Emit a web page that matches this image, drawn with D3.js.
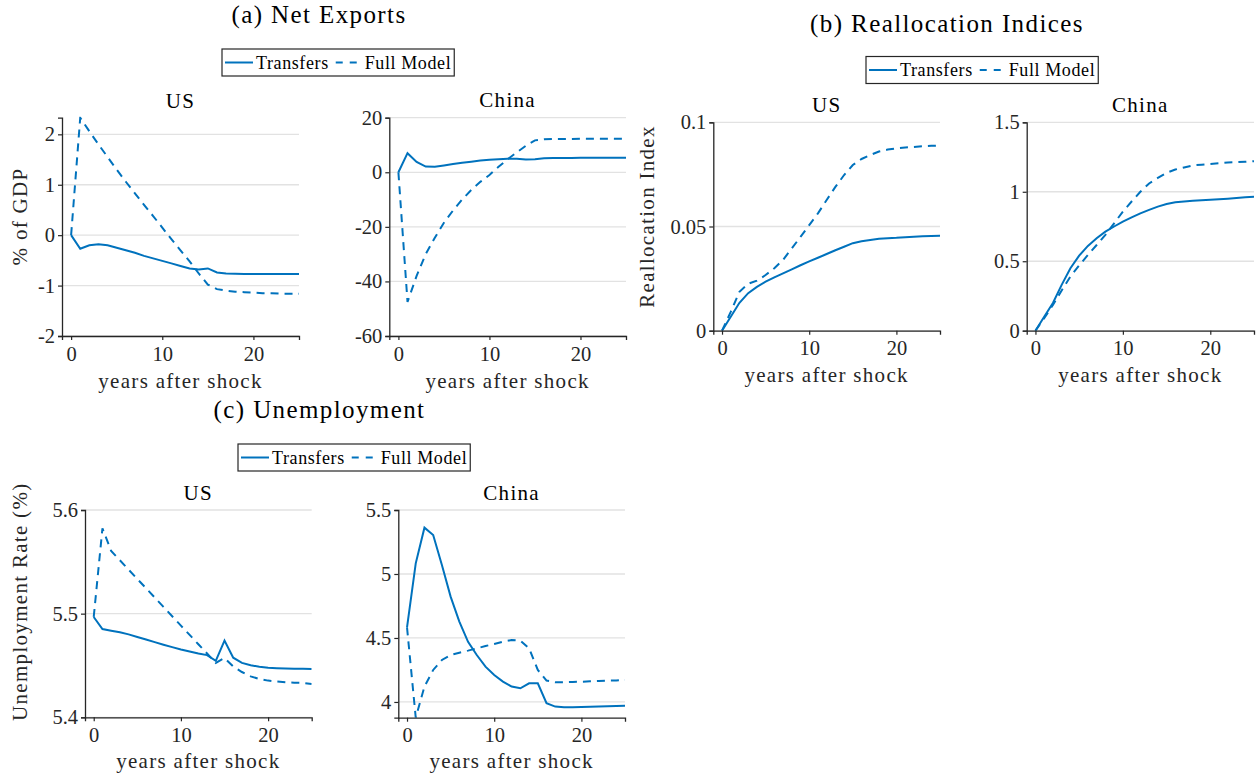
<!DOCTYPE html>
<html><head><meta charset="utf-8">
<script src="https://cdn.jsdelivr.net/npm/d3@7"></script>
<style>
body{margin:0;background:#fff}
svg{display:block}
text{font-family:"Liberation Serif","Times New Roman",serif;}
</style>
</head><body>
<svg id="chart" width="1257" height="776"></svg>
<script>
// ---------------- data ----------------
const years = [0,1,2,3,4,5,6,7,8,9,10,11,12,13,14,15,16,17,18,19,20,21,22,23,24,25];
const seriesNames = ["Transfers", "Full Model"];
const xTicks = [0, 10, 20];

// (a) Net Exports, % of GDP
const nxUSTransfers = [0,-0.27,-0.2,-0.18,-0.2,-0.25,-0.3,-0.35,-0.41,-0.46,-0.51,-0.56,-0.61,-0.66,-0.68,-0.66,-0.74,-0.76,-0.765,-0.77,-0.77,-0.77,-0.77,-0.77,-0.77,-0.77];
const nxUSFull      = [0,2.33,2.06,1.8,1.55,1.3,1.06,0.83,0.6,0.38,0.15,-0.08,-0.3,-0.52,-0.76,-0.98,-1.07,-1.1,-1.12,-1.13,-1.14,-1.15,-1.15,-1.16,-1.16,-1.16];
const nxCNTransfers = [0,7.0,3.8,2.1,2.0,2.5,3.0,3.5,3.9,4.3,4.6,4.8,5.0,5.0,4.7,4.75,5.1,5.2,5.25,5.25,5.3,5.3,5.3,5.3,5.3,5.3];
const nxCNFull      = [0,-47.5,-38,-30,-24,-18.5,-14,-10,-6.5,-3.5,-1,2,4.8,7.3,9.7,11.7,12.1,12.2,12.2,12.2,12.3,12.3,12.3,12.3,12.3,12.3];
const nxUSTicks = [-2,-1,0,1,2];
const nxCNTicks = [-60,-40,-20,0,20];

// (b) Reallocation Indices
const riUSTransfers = [0,0.0067,0.0134,0.018,0.021,0.0235,0.0256,0.0275,0.0294,0.0314,0.0333,0.035,0.0368,0.0386,0.0403,0.042,0.0429,0.0435,0.0441,0.0444,0.0446,0.0449,0.0451,0.0453,0.0455,0.0456];
const riUSFull      = [0,0.009,0.0187,0.0225,0.024,0.0267,0.030,0.034,0.0395,0.045,0.0507,0.0563,0.0627,0.069,0.0747,0.0795,0.0824,0.0843,0.086,0.0869,0.0875,0.0879,0.0882,0.0885,0.0887,0.0889];
const riCNTransfers = [0,0.1,0.2,0.33,0.45,0.54,0.61,0.665,0.713,0.75,0.785,0.816,0.845,0.87,0.893,0.912,0.924,0.93,0.935,0.939,0.942,0.946,0.95,0.955,0.96,0.965];
const riCNFull      = [0,0.09,0.185,0.29,0.39,0.47,0.545,0.617,0.69,0.773,0.857,0.93,1.0,1.06,1.1,1.137,1.16,1.175,1.19,1.195,1.2,1.205,1.21,1.213,1.216,1.22];
const riUSTicks = [0,0.05,0.1];
const riUSTickLabels = ["0","0.05","0.1"];
const riCNTicks = [0,0.5,1,1.5];
const riCNTickLabels = ["0","0.5","1","1.5"];

// (c) Unemployment rate, %
const urUSTransfers = [5.4968,5.4852,5.4836,5.482,5.48,5.4775,5.475,5.4725,5.47,5.4677,5.4655,5.4635,5.4615,5.46,5.4545,5.474,5.4575,5.4525,5.4502,5.4488,5.4478,5.4474,5.4471,5.4469,5.4468,5.4467];
const urUSFull      = [5.4968,5.5823,5.5605,5.5515,5.5425,5.5335,5.5245,5.5155,5.5065,5.4975,5.4885,5.4795,5.4705,5.4615,5.4525,5.4572,5.449,5.4437,5.4395,5.437,5.4354,5.4345,5.4338,5.4334,5.4332,5.4322];
const urCNTransfers = [4.583,5.083,5.362,5.305,5.07,4.823,4.628,4.47,4.367,4.276,4.21,4.159,4.12,4.107,4.146,4.146,3.99,3.964,3.958,3.959,3.96,3.962,3.964,3.966,3.968,3.971];
const urCNFull      = [4.583,3.877,4.12,4.25,4.328,4.367,4.385,4.401,4.419,4.437,4.453,4.471,4.484,4.479,4.419,4.25,4.167,4.154,4.154,4.156,4.158,4.161,4.164,4.166,4.168,4.172];
const urUSTicks = [5.4,5.5,5.6];
const urUSTickLabels = ["5.4","5.5","5.6"];
const urCNTicks = [4,4.5,5,5.5];
const urCNTickLabels = ["4","4.5","5","5.5"];

// ---------------- drawing ----------------
const svg = d3.select("#chart");
const BLUE = "#0072BD";
const AX = "#262626";
const DASH = "8,6";
const LAB_FS = "21px", LAB_LS = "1.3px";
let clipId = 0;

function label(sel) {
  return sel.style("font-size", LAB_FS).style("letter-spacing", LAB_LS);
}

function panel(o) {
  const g = svg.append("g");
  const x = d3.scaleLinear().domain([-1, 25]).range([o.x0, o.x1]);
  const y = d3.scaleLinear().domain(o.ydom).range([o.y1, o.y0]);

  g.selectAll("line.grid").data(o.yticks).join("line")
    .attr("class","grid")
    .attr("x1", o.x0).attr("x2", o.x1)
    .attr("y1", d => y(d)).attr("y2", d => y(d))
    .attr("stroke", "#e2e2e2").attr("stroke-width", 1.3);

  const id = "clip" + (clipId++);
  g.append("clipPath").attr("id", id).append("rect")
    .attr("x", o.x0).attr("y", o.y0 - 1).attr("width", o.x1 - o.x0).attr("height", o.y1 - o.y0 + 1);

  const line = d3.line().x((d, i) => x(years[i])).y(d => y(d));
  const lg = g.append("g").attr("clip-path", `url(#${id})`);
  lg.append("path").datum(o.full).attr("d", line)
    .attr("fill","none").attr("stroke", BLUE).attr("stroke-width", 2).attr("stroke-dasharray", DASH);
  lg.append("path").datum(o.transfers).attr("d", line)
    .attr("fill","none").attr("stroke", BLUE).attr("stroke-width", 2);

  const yAxis = d3.axisLeft(y).tickValues(o.yticks).tickSizeOuter(0).tickSize(4).tickPadding(3);
  if (o.ylabels) yAxis.tickFormat((d, i) => o.ylabels[i]);
  else yAxis.tickFormat(d => String(d));
  const ya = g.append("g").attr("transform", `translate(${o.x0},0)`).call(yAxis);

  const xAxis = d3.axisBottom(x).tickValues(xTicks).tickSizeOuter(0).tickSize(4).tickPadding(6).tickFormat(d => String(d));
  const xa = g.append("g").attr("transform", `translate(0,${o.y1})`).call(xAxis);

  [ya, xa].forEach(a => {
    a.select(".domain").attr("stroke", AX).attr("stroke-width", 1.3);
    a.selectAll(".tick line").attr("stroke", AX).attr("stroke-width", 1.2);
    a.selectAll(".tick text").attr("fill", AX).style("font-size", "20.5px")
      .style("font-family", '"Liberation Serif", serif');
  });

  const cx = (o.x0 + o.x1) / 2;
  label(g.append("text").attr("x", cx).attr("y", o.titleY).attr("text-anchor","middle")
    .attr("fill","#000").text(o.title));
  label(g.append("text").attr("x", cx).attr("y", o.xlabY).attr("text-anchor","middle")
    .attr("fill", AX).text("years after shock"));
  if (o.ylab) {
    label(g.append("text").attr("transform", `translate(${o.ylab.x},${o.ylab.y}) rotate(-90)`)
      .attr("text-anchor","middle").attr("fill", AX).text(o.ylab.text));
  }
}

function legend(lx, ly) {
  const g = svg.append("g").attr("transform", `translate(${lx},${ly})`);
  const h = 27;
  const rect = g.append("rect").attr("x",0).attr("y",0).attr("height",h)
    .attr("fill","#fff").attr("stroke", AX).attr("stroke-width",1.2);
  const my = 13.5;
  g.append("line").attr("x1",3).attr("x2",31).attr("y1",my).attr("y2",my)
    .attr("stroke",BLUE).attr("stroke-width",2);
  const t1 = g.append("text").attr("x",34).attr("y",19.5).style("font-size","18px")
    .style("letter-spacing","0.6px").attr("fill","#000").text(seriesNames[0]);
  const w1 = t1.node().getComputedTextLength();
  const dx = 34 + w1 + 7;
  g.append("line").attr("x1",dx).attr("x2",dx+22).attr("y1",my).attr("y2",my)
    .attr("stroke",BLUE).attr("stroke-width",2).attr("stroke-dasharray","7,7");
  const t2 = g.append("text").attr("x",dx+29).attr("y",19.5).style("font-size","18px")
    .style("letter-spacing","0.6px").attr("fill","#000").text(seriesNames[1]);
  const w2 = t2.node().getComputedTextLength();
  rect.attr("width", dx + 29 + w2 + 3);
}

function bigTitle(x, y, t) {
  svg.append("text").attr("x", x).attr("y", y).attr("text-anchor","middle")
    .style("font-size","25px").style("letter-spacing","1.4px").attr("fill","#000").text(t);
}

// (a)
bigTitle(319, 23, "(a) Net Exports");
legend(222, 49);
panel({x0:62, x1:299, y0:117.7, y1:336, ydom:[-2, 2.33], yticks:nxUSTicks,
  transfers:nxUSTransfers, full:nxUSFull, title:"US", titleY:107.5, xlabY:388,
  ylab:{x:27, y:216.5, text:"% of GDP"}});
panel({x0:389.3, x1:626, y0:117.7, y1:336, ydom:[-60, 20], yticks:nxCNTicks,
  transfers:nxCNTransfers, full:nxCNFull, title:"China", titleY:107, xlabY:388});

// (b)
bigTitle(947, 31.5, "(b) Reallocation Indices");
legend(866, 56.5);
panel({x0:713.3, x1:940, y0:122.3, y1:330.7, ydom:[0, 0.1], yticks:riUSTicks, ylabels:riUSTickLabels,
  transfers:riUSTransfers, full:riUSFull, title:"US", titleY:112.3, xlabY:381.5,
  ylab:{x:654, y:216.5, text:"Reallocation Index"}});
panel({x0:1026.7, x1:1254, y0:122.3, y1:330.7, ydom:[0, 1.5], yticks:riCNTicks, ylabels:riCNTickLabels,
  transfers:riCNTransfers, full:riCNFull, title:"China", titleY:112.3, xlabY:381.5});

// (c)
bigTitle(319.5, 418, "(c) Unemployment");
legend(238, 444);
panel({x0:85, x1:311.7, y0:510, y1:717.3, ydom:[5.4, 5.6], yticks:urUSTicks, ylabels:urUSTickLabels,
  transfers:urUSTransfers, full:urUSFull, title:"US", titleY:500, xlabY:768,
  ylab:{x:27, y:601.7, text:"Unemployment Rate (%)"}});
panel({x0:398.3, x1:625, y0:510, y1:717.7, ydom:[3.877, 5.5], yticks:urCNTicks, ylabels:urCNTickLabels,
  transfers:urCNTransfers, full:urCNFull, title:"China", titleY:500, xlabY:768});
</script>
</body></html>
